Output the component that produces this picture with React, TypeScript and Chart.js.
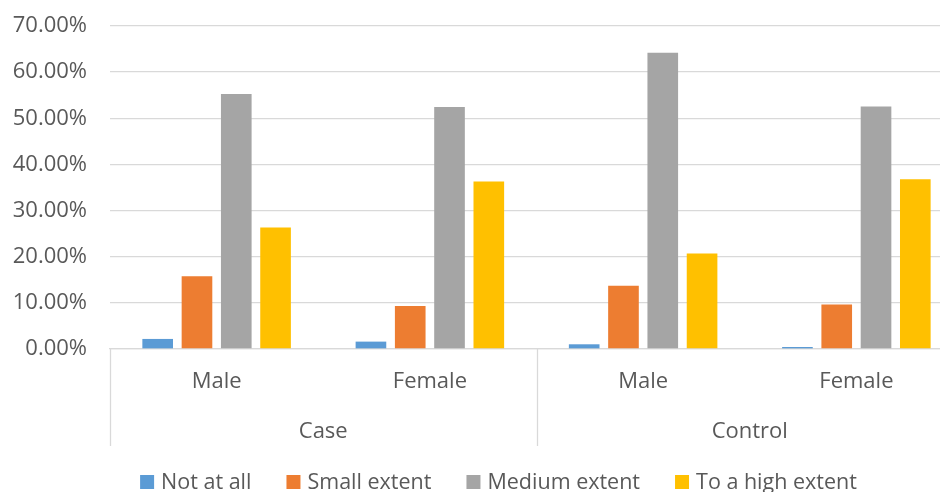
import React, { useEffect, useRef } from "react";
import { Chart, registerables } from "chart.js";

Chart.register(...registerables);

// Categories: sex within each study group
const sexLabels = ["Male", "Female", "Male", "Female"];
const groupLabels = ["Case", "Control"];

// Share of respondents (%) per answer level
const notAtAll = [2.18, 1.6, 1.02, 0.44];
const smallExtent = [15.76, 9.3, 13.7, 9.66];
const mediumExtent = [55.28, 52.45, 64.2, 52.53];
const highExtent = [26.33, 36.28, 20.67, 36.78];

const seriesNames = ["Not at all", "Small extent", "Medium extent", "To a high extent"];
const seriesColors = ["#5B9BD5", "#ED7D31", "#A5A5A5", "#FFC000"];

const FONT = "'Open Sans', 'DejaVu Sans', sans-serif";
const TEXT = "#595959";
const LINE = "#d9d9d9";

// Second axis row (Case / Control) with separators, plus the bottom legend
const groupAxisPlugin = {
  id: "groupAxis",
  afterDraw(chart: any) {
    const { ctx, chartArea } = chart;
    const x = chart.scales.x;
    const n = chart.data.labels.length;
    const perGroup = n / groupLabels.length;
    const catW = (x.right - x.left) / n;

    ctx.save();
    ctx.strokeStyle = LINE;
    ctx.lineWidth = 1.3;
    for (let g = 0; g <= groupLabels.length; g++) {
      const px = Math.round(x.left + g * perGroup * catW) + 0.5;
      ctx.beginPath();
      ctx.moveTo(px, chartArea.bottom);
      ctx.lineTo(px, chartArea.bottom + 97);
      ctx.stroke();
    }

    ctx.fillStyle = TEXT;
    ctx.font = `22px ${FONT}`;
    ctx.textAlign = "center";
    ctx.textBaseline = "middle";
    groupLabels.forEach((label, g) => {
      const cx = x.left + (g + 0.5) * perGroup * catW;
      ctx.fillText(label, cx, chartArea.bottom + 83);
    });

    // Legend row
    const boxSize = 14;
    const boxGap = 7;
    const itemGap = 35;
    const baseline = 489;
    ctx.font = `21.5px ${FONT}`;
    ctx.textAlign = "left";
    ctx.textBaseline = "alphabetic";
    const items = chart.data.datasets.map((ds: any) => ({
      text: ds.label,
      color: ds.backgroundColor,
      w: boxSize + boxGap + ctx.measureText(ds.label).width,
    }));
    const total = items.reduce((s: number, it: any) => s + it.w, 0) + itemGap * (items.length - 1);
    let cur = chart.width / 2 - total / 2;
    items.forEach((it: any) => {
      ctx.fillStyle = it.color;
      ctx.fillRect(cur, baseline - boxSize, boxSize, boxSize);
      ctx.fillStyle = TEXT;
      ctx.fillText(it.text, cur + boxSize + boxGap, baseline);
      cur += it.w + itemGap;
    });
    ctx.restore();
  },
};

export default function App() {
  const canvasRef = useRef<HTMLCanvasElement | null>(null);

  useEffect(() => {
    if (!canvasRef.current) return;
    const values = [notAtAll, smallExtent, mediumExtent, highExtent];
    const chart = new Chart(canvasRef.current, {
      type: "bar",
      data: {
        labels: sexLabels,
        datasets: values.map((data, i) => ({
          label: seriesNames[i],
          data,
          backgroundColor: seriesColors[i],
          borderWidth: 0,
          categoryPercentage: 0.737,
          barPercentage: 0.78,
        })),
      },
      options: {
        responsive: false,
        animation: false,
        devicePixelRatio: 1,
        layout: { padding: { top: 26, right: 34, bottom: 0, left: 0 } },
        plugins: {
          legend: { display: false },
          tooltip: { enabled: false },
        },
        scales: {
          x: {
            grid: { display: false, drawTicks: false },
            border: { display: true, color: LINE, width: 1.3 },
            ticks: {
              color: TEXT,
              font: { family: FONT, size: 22 },
              padding: 20,
              maxRotation: 0,
            },
            afterFit: (scale: any) => {
              scale.height = 143;
            },
          },
          y: {
            min: 0,
            max: 70,
            grid: { color: LINE, lineWidth: 1.3, drawTicks: false },
            border: { display: false },
            ticks: {
              stepSize: 10,
              color: TEXT,
              font: { family: FONT, size: 22 },
              padding: 23,
              callback: (v: any) => Number(v).toFixed(2) + "%",
            },
            afterFit: (scale: any) => {
              scale.width = 110;
              scale.paddingTop = 13;
              scale.paddingBottom = 13;
            },
          },
        },
      },
      plugins: [groupAxisPlugin],
    });
    return () => chart.destroy();
  }, []);

  return (
    <div
      style={{
        position: "fixed",
        left: 0,
        top: 0,
        width: 940,
        height: 492,
        overflow: "hidden",
        background: "#ffffff",
      }}
    >
      <canvas ref={canvasRef} width={997} height={492} style={{ width: 997, height: 492 }} />
    </div>
  );
}
